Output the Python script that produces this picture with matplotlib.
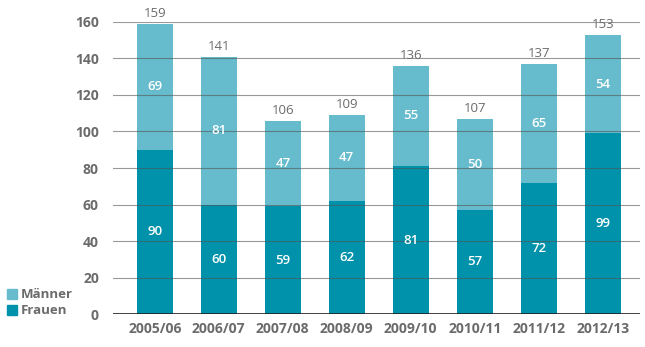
import matplotlib
matplotlib.use("Agg")
import matplotlib.pyplot as plt
import numpy as np

categories = ["2005/06", "2006/07", "2007/08", "2008/09", "2009/10", "2010/11", "2011/12", "2012/13"]
frauen = [90, 60, 59, 62, 81, 57, 72, 99]
maenner = [69, 81, 47, 47, 55, 50, 65, 54]
yticks = [0, 20, 40, 60, 80, 100, 120, 140, 160]

c_m = "#66bccc"
c_f = "#0091ab"
grey = "#6b6b6b"

plt.rcParams['font.family'] = ['Open Sans', 'DejaVu Sans']

fig = plt.figure(figsize=(6.45, 3.47), dpi=100)
ax = fig.add_axes([0.175, 0.0951, 0.817, 0.8415])

x = np.arange(len(categories))
w = 0.56
ax.bar(x, frauen, w, color=c_f, zorder=2)
ax.bar(x, maenner, w, bottom=frauen, color=c_m, zorder=2)

for xi, f, m in zip(x, frauen, maenner):
    ax.text(xi, f / 2, str(f), ha="center", va="center", color="white", fontsize=9.5, fontweight="semibold", zorder=4)
    ax.text(xi, f + m / 2, str(m), ha="center", va="center", color="white", fontsize=9.5, fontweight="semibold", zorder=4)
    ax.text(xi, f + m + 2, str(f + m), ha="center", va="bottom", color=grey, fontsize=9.5, zorder=4)

for t in yticks[1:]:
    ax.axhline(t, color="#555555", lw=0.8, alpha=0.6, zorder=3)
ax.axhline(0, color="#222222", lw=1.2, zorder=3)

ax.set_xlim(-0.656, 7.58)
ax.set_ylim(0, 160)
ax.set_yticks(yticks)
ax.set_yticklabels([str(t) for t in yticks], color=grey, fontsize=10, fontweight="bold")
ax.set_xticks(x)
ax.set_xticklabels(categories, color=grey, fontsize=10, fontweight="bold")
ax.tick_params(axis="both", length=0)
ax.tick_params(axis="y", pad=10)
ax.tick_params(axis="x", pad=6)
for s in ax.spines.values():
    s.set_visible(False)

# legend
fig.patches.append(plt.Rectangle((7 / 645, 1 - 299 / 347), 10 / 645, 10 / 347, transform=fig.transFigure, color=c_m))
fig.patches.append(plt.Rectangle((7 / 645, 1 - 315 / 347), 10 / 645, 10 / 347, transform=fig.transFigure, color=c_f))
fig.text(21 / 645, 1 - 294 / 347, "Männer", color=grey, fontsize=9.5, fontweight="bold", va="center")
fig.text(21 / 645, 1 - 310 / 347, "Frauen", color=grey, fontsize=9.5, fontweight="bold", va="center")

fig.savefig("out.png", dpi=100)
